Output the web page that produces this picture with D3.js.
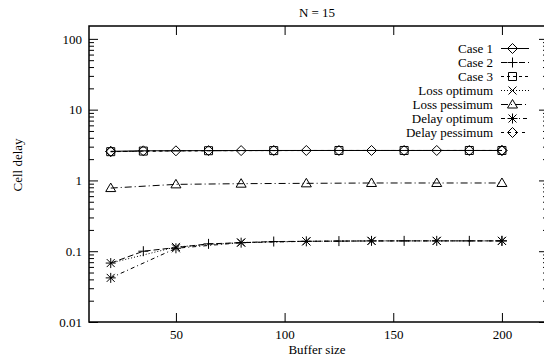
<!DOCTYPE html>
<html>
<head>
<meta charset="utf-8">
<script src="https://cdn.jsdelivr.net/npm/d3@7"></script>
<style>
  body { margin: 0; background: #fff; }
  svg text { font-family: "Liberation Serif", "Times New Roman", serif; font-size: 13px; fill: #000; }
</style>
</head>
<body>
<svg id="chart" width="544" height="361"></svg>
<script>
// buffer sizes where each group of runs was measured
var caseX  = [20, 35, 65, 95, 125, 155, 185, 200];
var boundX = [20, 50, 80, 110, 140, 170, 200];

var case1     = [2.58, 2.62, 2.64, 2.65, 2.65, 2.65, 2.65, 2.65];
var case2     = [0.068, 0.100, 0.127, 0.137, 0.139, 0.140, 0.140, 0.140];
var case3     = [2.55, 2.60, 2.63, 2.64, 2.65, 2.65, 2.65, 2.65];
var lossOpt   = [0.068, 0.115, 0.133, 0.138, 0.140, 0.140, 0.140];
var lossPes   = [0.78, 0.88, 0.90, 0.91, 0.92, 0.92, 0.92];
var delayOpt  = [0.042, 0.110, 0.132, 0.138, 0.140, 0.140, 0.140];
var delayPes  = [2.55, 2.62, 2.64, 2.65, 2.65, 2.65, 2.65];

var xTicks = [50, 100, 150, 200];
var yTicks = [0.01, 0.1, 1, 10, 100];
var yTickLabels = ["0.01", "0.1", "1", "10", "100"];

var series = [
  {name: "Case 1",         xs: caseX,  ys: case1,    mark: "diamond",  dash: null},
  {name: "Case 2",         xs: caseX,  ys: case2,    mark: "plus",     dash: "6,3"},
  {name: "Case 3",         xs: caseX,  ys: case3,    mark: "square",   dash: "3,3"},
  {name: "Loss optimum",   xs: boundX, ys: lossOpt,  mark: "cross",    dash: "1,2"},
  {name: "Loss pessimum",  xs: boundX, ys: lossPes,  mark: "triangle", dash: "7,3,1,3"},
  {name: "Delay optimum",  xs: boundX, ys: delayOpt, mark: "star",     dash: "4,3,1,3"},
  {name: "Delay pessimum", xs: boundX, ys: delayPes, mark: "diamond",  dash: "3,4"}
];

// frame runs past the right edge of the picture, like the original
var plotL = 89, plotR = 548, plotT = 26, plotB = 322;
var svg = d3.select("#chart");

var x = d3.scaleLinear().domain([10, 221.2]).range([plotL, plotR]);
var y = d3.scaleLog().domain([0.01, 152]).range([plotB, plotT]);

function markPath(type){
  var s = 5;
  switch(type) {
    case "diamond":  return "M0," + (-s) + "L" + s + ",0L0," + s + "L" + (-s) + ",0Z";
    case "plus":     return "M" + (-s) + ",0H" + s + "M0," + (-s) + "V" + s;
    case "square":   return "M-4,-4H4V4H-4Z";
    case "cross":    return "M-4,-4L4,4M-4,4L4,-4";
    case "triangle": return "M0,-5L5,3.5H-5Z";
    default:         return "M" + (-s) + ",0H" + s + "M0," + (-s) + "V" + s + "M-4,-4L4,4M-4,4L4,-4";
  }
}

// minor log ticks (2..9 per decade)
var minor = [];
[0.01, 0.1, 1, 10].forEach(function(d){
  for (var k = 2; k <= 9; k++) minor.push(d * k);
});

// axes, ticks pointing inwards
svg.append("g").attr("transform", "translate(" + plotL + ",0)")
  .call(d3.axisLeft(y).tickValues(yTicks).tickSize(-9).tickPadding(7)
    .tickFormat(function(d, i){ return yTickLabels[i]; }));
svg.append("g").attr("transform", "translate(" + plotL + ",0)")
  .call(d3.axisLeft(y).tickValues(minor).tickSize(-5).tickFormat(""));
svg.append("g").attr("transform", "translate(" + plotR + ",0)")
  .call(d3.axisRight(y).tickValues(yTicks).tickSize(-9).tickFormat(""));
svg.append("g").attr("transform", "translate(" + plotR + ",0)")
  .call(d3.axisRight(y).tickValues(minor).tickSize(-5).tickFormat(""));
svg.append("g").attr("transform", "translate(0," + plotB + ")")
  .call(d3.axisBottom(x).tickValues(xTicks).tickSize(-9).tickPadding(8));
svg.append("g").attr("transform", "translate(0," + plotT + ")")
  .call(d3.axisTop(x).tickValues(xTicks).tickSize(-9).tickFormat(""));

svg.selectAll(".domain").remove();
svg.selectAll(".tick line").attr("stroke", "#000").attr("stroke-width", 1);
svg.selectAll(".tick text").attr("font-family", null).attr("font-size", null);

svg.append("rect")
  .attr("x", plotL).attr("y", plotT)
  .attr("width", plotR - plotL).attr("height", plotB - plotT)
  .attr("fill", "none").attr("stroke", "#000").attr("stroke-width", 1.5);

// data lines and marks
var line = d3.line()
  .x(function(d){ return x(d[0]); })
  .y(function(d){ return y(d[1]); });

var plot = svg.append("g");
series.forEach(function(s){
  var pts = s.xs.map(function(v, i){ return [v, s.ys[i]]; });
  plot.append("path")
    .attr("d", line(pts))
    .attr("fill", "none")
    .attr("stroke", "#000")
    .attr("stroke-width", 1)
    .attr("stroke-dasharray", s.dash);
  plot.selectAll(null)
    .data(pts)
    .enter()
    .append("path")
    .attr("transform", function(d){ return "translate(" + x(d[0]) + "," + y(d[1]) + ")"; })
    .attr("d", markPath(s.mark))
    .attr("fill", "none")
    .attr("stroke", "#000")
    .attr("stroke-width", 1);
});

// legend
var legend = svg.append("g");
series.forEach(function(s, i){
  var ly = 48.5 + i * 14;
  legend.append("text")
    .attr("x", 493).attr("y", ly)
    .attr("dy", "0.35em")
    .attr("text-anchor", "end")
    .text(s.name);
  legend.append("line")
    .attr("x1", 501).attr("x2", 529)
    .attr("y1", ly).attr("y2", ly)
    .attr("stroke", "#000")
    .attr("stroke-dasharray", s.dash);
  legend.append("path")
    .attr("transform", "translate(512.5," + ly + ")")
    .attr("d", markPath(s.mark))
    .attr("fill", "none")
    .attr("stroke", "#000");
});

// titles
svg.append("text")
  .attr("x", 317).attr("y", 17)
  .attr("text-anchor", "middle")
  .text("N = 15");
svg.append("text")
  .attr("x", 317).attr("y", 354)
  .attr("text-anchor", "middle")
  .text("Buffer size");
svg.append("text")
  .attr("transform", "translate(22,165) rotate(-90)")
  .attr("text-anchor", "middle")
  .text("Cell delay");
</script>
</body>
</html>
